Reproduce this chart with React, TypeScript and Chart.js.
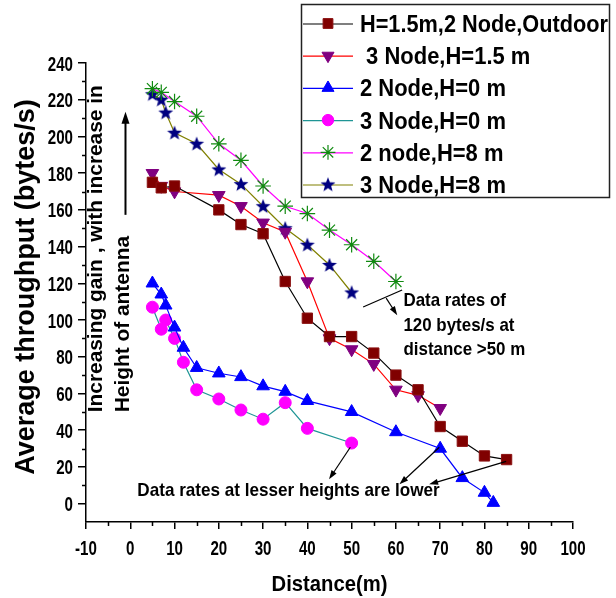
import React, { useEffect, useRef } from 'react';
import { Chart, registerables } from 'chart.js';
import { drawPoint } from 'chart.js/helpers';

Chart.register(...registerables);

// ---------- data ----------
const X_TICKS = [-10, 0, 10, 20, 30, 40, 50, 60, 70, 80, 90, 100];
const Y_TICKS = [0, 20, 40, 60, 80, 100, 120, 140, 160, 180, 200, 220, 240];
const X_MINOR = [-5, 5, 15, 25, 35, 45, 55, 65, 75, 85, 95];
const Y_MINOR = [10, 30, 50, 70, 90, 110, 130, 150, 170, 190, 210, 230];

const LEGEND_LABELS = [
  'H=1.5m,2 Node,Outdoor',
  ' 3 Node,H=1.5 m',
  '2 Node,H=0 m',
  '3 Node,H=0 m',
  '2 node,H=8 m',
  '3 Node,H=8 m',
];

const DIST_S1 = [5, 7, 10, 20, 25, 30, 35, 40, 45, 50, 55, 60, 65, 70, 75, 80, 85];
const TP_S1 = [175, 172, 173, 160, 152, 147, 121, 101, 91, 91, 82, 70, 62, 42, 34, 26, 24];

const DIST_S2 = [5, 7, 10, 20, 25, 30, 35, 40, 45, 50, 55, 60, 65, 70];
const TP_S2 = [180, 173, 170, 168, 162, 153, 148, 121, 90, 84, 76, 62, 59, 52];

const DIST_S3 = [5, 7, 8, 10, 12, 15, 20, 25, 30, 35, 40, 50, 60, 70, 75, 80, 82];
const TP_S3 = [120, 114, 108, 96, 85, 74, 71, 69, 64, 61, 56, 50, 39, 30, 14, 6, 0.5];

const DIST_S4 = [5, 7, 8, 10, 12, 15, 20, 25, 30, 35, 40, 50];
const TP_S4 = [107, 95, 100, 90, 77, 62, 57, 51, 46, 55, 41, 33];

const DIST_S5 = [5, 7, 10, 15, 20, 25, 30, 35, 40, 45, 50, 55, 60];
const TP_S5 = [226, 224, 219, 211, 196, 187, 173, 162, 158, 149, 141, 132, 121];

const DIST_S6 = [5, 7, 8, 10, 15, 20, 25, 30, 35, 40, 45, 50];
const TP_S6 = [223, 220, 213, 202, 196, 182, 174, 162, 150, 141, 130, 115];

const X_TITLE = 'Distance(m)';
const Y_TITLE = 'Average throughput (bytes/s)';
const NOTE_LEFT = ['Increasing gain , with increase in', 'Height of antenna'];
const NOTE_RIGHT = ['Data rates of', '120 bytes/s at', 'distance >50 m'];
const NOTE_BOTTOM = 'Data rates at lesser heights are lower';

// ---------- styles ----------
const FONT = '"Liberation Sans", Arial, Helvetica, sans-serif';

function makeStar(outer: number, color: string): HTMLCanvasElement {
  const c = document.createElement('canvas');
  const s = Math.ceil(outer * 2 + 2);
  c.width = s;
  c.height = s;
  const g = c.getContext('2d')!;
  const cx = s / 2;
  const cy = s / 2 + 0.5;
  const inner = outer * 0.42;
  g.beginPath();
  for (let i = 0; i < 10; i++) {
    const r = i % 2 === 0 ? outer : inner;
    const a = -Math.PI / 2 + (i * Math.PI) / 5;
    const px = cx + r * Math.cos(a);
    const py = cy + r * Math.sin(a);
    if (i === 0) g.moveTo(px, py);
    else g.lineTo(px, py);
  }
  g.closePath();
  g.fillStyle = color;
  g.fill();
  return c;
}

function drawText(
  ctx: CanvasRenderingContext2D,
  text: string,
  x: number,
  y: number,
  size: number,
  k: number,
  align: CanvasTextAlign = 'left',
  rot = 0,
  maxW?: number
) {
  ctx.save();
  ctx.translate(x, y);
  if (rot) ctx.rotate(rot);
  ctx.scale(k, 1);
  ctx.font = `bold ${size}px ${FONT}`;
  ctx.textAlign = align;
  ctx.textBaseline = 'alphabetic';
  ctx.fillStyle = '#000';
  if (maxW) ctx.fillText(text, 0, 0, maxW / k);
  else ctx.fillText(text, 0, 0);
  ctx.restore();
}

function arrow(
  ctx: CanvasRenderingContext2D,
  x1: number,
  y1: number,
  x2: number,
  y2: number,
  lw: number,
  head: number,
  hw: number,
  withHead = true
) {
  ctx.save();
  ctx.strokeStyle = '#000';
  ctx.fillStyle = '#000';
  ctx.lineWidth = lw;
  const a = Math.atan2(y2 - y1, x2 - x1);
  const ex = withHead ? x2 - Math.cos(a) * head * 0.8 : x2;
  const ey = withHead ? y2 - Math.sin(a) * head * 0.8 : y2;
  ctx.beginPath();
  ctx.moveTo(x1, y1);
  ctx.lineTo(ex, ey);
  ctx.stroke();
  if (withHead) {
    const bx = x2 - Math.cos(a) * head;
    const by = y2 - Math.sin(a) * head;
    ctx.beginPath();
    ctx.moveTo(x2, y2);
    ctx.lineTo(bx + Math.sin(a) * hw / 2, by - Math.cos(a) * hw / 2);
    ctx.lineTo(bx - Math.sin(a) * hw / 2, by + Math.cos(a) * hw / 2);
    ctx.closePath();
    ctx.fill();
  }
  ctx.restore();
}

export default function App() {
  const ref = useRef<HTMLCanvasElement>(null);

  useEffect(() => {
    const star = makeStar(7.8, '#000080');

    const series = [
      { x: DIST_S1, y: TP_S1, line: '#000000', style: 'rect', r: 7.3, fill: '#800000', stroke: '#8a1010', rot: 0, bw: 1 },
      { x: DIST_S2, y: TP_S2, line: '#ff0000', style: 'triangle', r: 7.3, fill: '#800080', stroke: '#800080', rot: 180, bw: 1 },
      { x: DIST_S3, y: TP_S3, line: '#0000ff', style: 'triangle', r: 7.3, fill: '#0000ff', stroke: '#0000ff', rot: 0, bw: 1 },
      { x: DIST_S4, y: TP_S4, line: '#1f9595', style: 'circle', r: 6, fill: '#ff00ff', stroke: '#ff00ff', rot: 0, bw: 1 },
      { x: DIST_S5, y: TP_S5, line: '#ff00ff', style: 'star', r: 7.8, fill: '#008000', stroke: '#108a10', rot: 0, bw: 1.2 },
      { x: DIST_S6, y: TP_S6, line: '#808000', style: star as any, r: 7.8, fill: '#000080', stroke: '#000080', rot: 0, bw: 1 },
    ];

    const datasets = series.map((s, i) => ({
      label: LEGEND_LABELS[i],
      data: s.x.map((xv, j) => ({ x: xv, y: s.y[j] })),
      borderColor: s.line,
      backgroundColor: s.fill,
      borderWidth: 1.2,
      pointStyle: s.style,
      pointRadius: s.r,
      pointRotation: s.rot,
      pointBackgroundColor: s.fill,
      pointBorderColor: s.stroke,
      pointBorderWidth: s.bw,
      tension: 0,
      fill: false,
      clip: false as any,
    }));

    const decor = {
      id: 'decor',
      afterDraw(chart: any) {
        const ctx: CanvasRenderingContext2D = chart.ctx;
        const xs = chart.scales.x;
        const ys = chart.scales.y;
        const X = (v: number) => xs.getPixelForValue(v);
        const Y = (v: number) => ys.getPixelForValue(v);
        const area = chart.chartArea;
        const axisY = area.bottom;
        const axisX = area.left;

        ctx.save();
        // minor ticks
        ctx.strokeStyle = '#000';
        ctx.lineWidth = 1.5;
        ctx.beginPath();
        X_MINOR.forEach((v) => {
          ctx.moveTo(Math.round(X(v)) + 0.5, axisY);
          ctx.lineTo(Math.round(X(v)) + 0.5, axisY + 4);
        });
        Y_MINOR.forEach((v) => {
          ctx.moveTo(axisX - 4, Math.round(Y(v)) + 0.5);
          ctx.lineTo(axisX, Math.round(Y(v)) + 0.5);
        });
        ctx.stroke();
        ctx.restore();

        // tick labels
        X_TICKS.forEach((v) => drawText(ctx, String(v), X(v), axisY + 33, 21, 0.72, 'center'));
        Y_TICKS.forEach((v) => drawText(ctx, String(v), axisX - 13, Y(v) + 7.5, 21, 0.72, 'right'));

        // axis titles
        drawText(ctx, X_TITLE, (area.left + area.right) / 2, axisY + 69, 22, 0.92, 'center');
        drawText(ctx, Y_TITLE, 34, Y(118), 27, 1.0, 'center', -Math.PI / 2);

        // left rotated note + arrow
        drawText(ctx, NOTE_LEFT[0], X(-6.3), Y(49.8), 19.5, 1.07, 'left', -Math.PI / 2);
        drawText(ctx, NOTE_LEFT[1], X(-0.4), Y(49.8), 19.5, 1.07, 'left', -Math.PI / 2);
        arrow(ctx, X(-1.08), Y(157.3), X(-1.08), Y(213.5), 2, 12, 8);

        // right note
        NOTE_RIGHT.forEach((t, i) => drawText(ctx, t, X(61.7), Y([107.4, 94.0, 80.7][i]), 18.6, 0.91));
        arrow(ctx, X(52.6), Y(107.1), X(61.4), Y(116.4), 1.2, 0, 0, false);
        arrow(ctx, X(57.8), Y(111.9), X(60.3), Y(102.6), 1.2, 9, 6);

        // bottom note
        drawText(ctx, NOTE_BOTTOM, X(1.6), Y(4.0), 19, 0.9);
        arrow(ctx, X(49.7), Y(30.7), X(44.9), Y(13.3), 1.2, 9, 6);
        arrow(ctx, X(69.8), Y(30.7), X(60.8), Y(10.5), 1.2, 9, 6);
        arrow(ctx, X(84.9), Y(23.0), X(67.5), Y(10.5), 1.2, 9, 6);

        // legend
        const LX = 301, LY = 4, LW = 308, LH = 193;
        ctx.save();
        ctx.fillStyle = '#fff';
        ctx.fillRect(LX, LY, LW, LH);
        ctx.strokeStyle = '#222';
        ctx.lineWidth = 1.5;
        ctx.strokeRect(LX + 0.5, LY + 0.5, LW, LH);
        ctx.beginPath();
        ctx.rect(LX, LY, LW, LH);
        ctx.clip();
        series.forEach((s, i) => {
          const cy = 23.5 + i * 32.2;
          ctx.strokeStyle = s.line;
          ctx.lineWidth = 1.2;
          ctx.beginPath();
          ctx.moveTo(303, cy + 0.5);
          ctx.lineTo(353, cy + 0.5);
          ctx.stroke();
          ctx.fillStyle = s.fill;
          ctx.strokeStyle = s.stroke;
          ctx.lineWidth = s.bw;
          drawPoint(ctx, { pointStyle: s.style as any, rotation: s.rot, radius: s.r * 0.95, borderWidth: s.bw }, 328, cy);
          drawText(ctx, LEGEND_LABELS[i], 360, cy + 8.4, 23.5, 0.935, 'left', 0, LX + LW - 360 - 1);
        });
        ctx.restore();
      },
    };

    const chart = new Chart(ref.current!, {
      type: 'line',
      data: { datasets: datasets as any },
      options: {
        animation: false,
        responsive: false,
        devicePixelRatio: 1,
        layout: { padding: { left: 0, right: 43, top: 63, bottom: 0 } },
        plugins: { legend: { display: false }, tooltip: { enabled: false } },
        scales: {
          x: {
            type: 'linear',
            position: 'bottom',
            min: -10,
            max: 100,
            afterBuildTicks: (s: any) => {
              s.ticks = X_TICKS.map((v) => ({ value: v }));
            },
            afterFit: (s: any) => {
              s.height = 76;
            },
            ticks: { display: false },
            grid: { display: true, drawOnChartArea: false, drawTicks: true, tickLength: 7, color: '#000', lineWidth: 1.5 },
            border: { display: true, color: '#000', width: 1.5 },
          },
          y: {
            type: 'linear',
            position: 'left',
            min: -10,
            max: 240,
            afterBuildTicks: (s: any) => {
              s.ticks = Y_TICKS.map((v) => ({ value: v }));
            },
            afterFit: (s: any) => {
              s.width = 86;
            },
            ticks: { display: false },
            grid: { display: true, drawOnChartArea: false, drawTicks: true, tickLength: 8, color: '#000', lineWidth: 1.5 },
            border: { display: true, color: '#000', width: 1.5 },
          },
        },
      },
      plugins: [decor],
    });
    return () => chart.destroy();
  }, []);

  return (
    <div style={{ position: 'absolute', left: 0, top: 0, width: 616, height: 598, background: '#fff' }}>
      <canvas ref={ref} width={616} height={598} style={{ display: 'block', width: 616, height: 598 }} />
    </div>
  );
}
